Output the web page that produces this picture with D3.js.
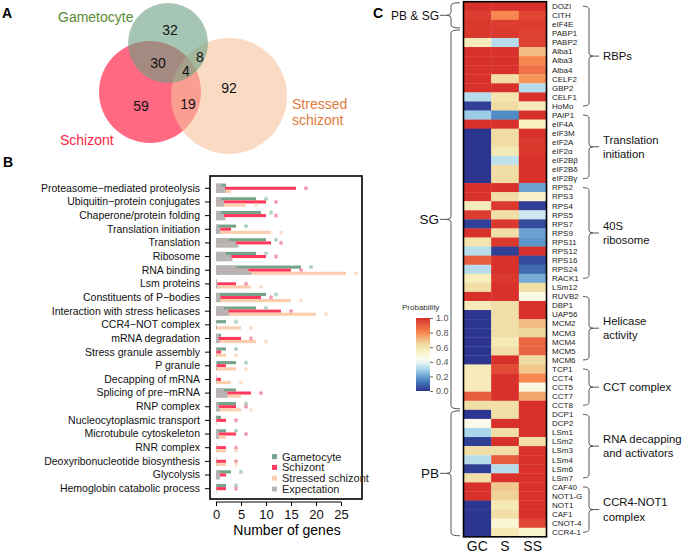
<!DOCTYPE html>
<html>
<head>
<meta charset="utf-8">
<script src="https://cdn.jsdelivr.net/npm/d3@7"></script>
<style>
  body { margin: 0; background: #fff; }
  svg { font-family: "Liberation Sans", Arial, sans-serif; }
</style>
</head>
<body>
<svg id="fig" width="685" height="555"></svg>
<script>
// ---------- data: panel A (Venn counts) ----------
var vennLabels = ["32", "30", "8", "4", "59", "19", "92"];

// ---------- data: panel B (bars) ----------
var categories = ["Proteasome\u2212mediated proteolysis", "Ubiquitin\u2212protein conjugates",
  "Chaperone/protein folding", "Translation initiation", "Translation", "Ribosome", "RNA binding",
  "Lsm proteins", "Constituents of P\u2212bodies", "Interaction with stress helicases",
  "CCR4\u2212NOT complex", "mRNA degradation", "Stress granule assembly", "P granule",
  "Decapping of mRNA", "Splicing of pre\u2212mRNA", "RNP complex", "Nucleocytoplasmic transport",
  "Microtubule cytoskeleton", "RNR complex", "Deoxyribonucleotide biosynthesis", "Glycolysis",
  "Hemoglobin catabolic process"];
var gameObs = [2, 8, 9, 4, 10, 8, 17, 0, 10, 8, 2, 1, 2, 4, 0, 4, 4, 1, 2, 0, 0, 3, 2];
var schObs  = [16, 10, 10, 3, 11, 10, 15, 4, 9, 13, 0, 5, 1, 2, 1, 7, 4, 2, 4, 2, 2, 2, 2];
var strObs  = [3, 6, 2, 11, 4, 2, 26, 7, 15, 20, 5, 8, 2, 4, 3, 5, 5, 0, 2, 2, 2, 0, 0];
var gameExp = [1.1, 1.0, 1.0, 0.5, 2.6, 2.0, 4.1, 0.2, 0.8, 1.6, 0.1, 0.6, 0.1, 0.2, 0.1, 1.5, 0.5, 0.1, 0.5, 0.1, 0.1, 0.6, 0.1];
var schExp  = [1.8, 1.6, 1.6, 0.9, 4.0, 3.1, 6.5, 0.3, 0.9, 2.5, 0.1, 0.5, 0.1, 0.2, 0.1, 2.3, 0.6, 0.1, 0.6, 0.1, 0.1, 0.8, 0.1];
var strExp  = [1.9, 1.6, 1.8, 0.9, 4.5, 3.3, 7.1, 0.3, 0.9, 2.6, 0.2, 0.8, 0.1, 0.2, 0.1, 2.3, 0.8, 0.1, 0.6, 0.1, 0.1, 0.8, 0.1];
var gameSig = [0, 1, 1, 1, 1, 1, 1, 0, 1, 1, 1, 0, 1, 1, 0, 0, 1, 0, 1, 0, 0, 1, 1];
var schSig  = [1, 1, 1, 0, 1, 1, 1, 1, 1, 1, 0, 1, 0, 0, 0, 1, 1, 1, 1, 1, 1, 0, 1];
var strSig  = [0, 1, 0, 1, 0, 0, 1, 1, 1, 1, 1, 1, 1, 1, 1, 0, 1, 0, 0, 1, 1, 0, 0];
var xTicks = [0, 5, 10, 15, 20, 25];
var legendNames = ["Gametocyte", "Schizont", "Stressed schizont", "Expectation"];

// ---------- data: panel C (heatmap) ----------
var stagesC = ["GC", "S", "SS"];
var genes = ["DOZI", "CITH", "eIF4E", "PABP1", "PABP2", "Alba1", "Alba3", "Alba4", "CELF2", "GBP2",
  "CELF1", "HoMo", "PAIP1", "eIF4A", "eIF3M", "eIF2A", "eIF2\u03b1", "eIF2B\u03b2", "eIF2B\u03b4", "eIF2B\u03b3",
  "RPS2", "RPS3", "RPS4", "RPS5", "RPS7", "RPS9", "RPS11", "RPS12", "RPS16", "RPS24", "RACK1",
  "LSm12", "RUVB2", "DBP1", "UAP56", "MCM2", "MCM3", "MCM4", "MCM5", "MCM6",
  "TCP1", "CCT4", "CCT5", "CCT7", "CCT8", "DCP1", "DCP2", "LSm1", "LSm2", "LSm3", "LSm4", "LSm6", "LSm7",
  "CAF40", "NOT1-G", "NOT1", "CAF1", "CNOT-4", "CCR4-1"];
var gcProb = [1, 0.97, 0.98, 0.98, 0.57, 1, 1, 1, 1, 1, 0.32, 0.02, 0.28, 1, 0, 0, 0, 0, 0, 0,
  1, 1, 0.57, 0.97, 0.02, 1, 0.6, 0.32, 0.9, 0.32, 0.56, 0.62, 1, 0.57, 0, 0, 0, 0, 0, 0,
  0.57, 0.57, 0.57, 0.9, 0.62, 0, 0.45, 0.3, 0.02, 0.62, 0.32, 0.02, 0.62, 1, 1, 0, 0, 0, 0];
var sProb = [1, 0.8, 0.97, 0.98, 0.32, 1, 1, 1, 0.63, 1, 0.6, 0.63, 0.16, 1, 0.63, 0.63, 0.58, 0.33, 0.62, 0.63,
  1, 0.62, 0.98, 0.62, 0.98, 0.62, 0.98, 0.02, 1, 1, 0.98, 1, 1, 0.62, 0.62, 0.62, 0.62, 0.58, 0.62, 1,
  0.94, 1, 1, 1, 0.62, 0.62, 1, 0.62, 1, 0.62, 0.9, 0.32, 1, 0.68, 0.66, 0.58, 0.62, 0.5, 0.58];
var ssProb = [1, 0.95, 0.97, 0.96, 0.96, 0.7, 0.8, 0.85, 0.78, 0.32, 1, 0.57, 1, 0.55, 1, 0.98, 0.98, 1, 1, 1,
  0.2, 0.53, 0.02, 0.35, 0.04, 0.2, 0.18, 1, 0.04, 0.1, 0.22, 0.62, 0.46, 1, 1, 0.7, 0.65, 0.88, 0.88, 0.63,
  0.68, 0.8, 0.47, 0.74, 1, 1, 1, 1, 0.62, 1, 1, 1, 1, 1, 1, 1, 1, 0.95, 0.52];
var legendTicks = [0, 0.2, 0.4, 0.6, 0.8, 1.0];
var rightGroups = [
  { text: ["RBPs"], from: 0, to: 11 },
  { text: ["Translation", "initiation"], from: 12, to: 19 },
  { text: ["40S", "ribosome"], from: 20, to: 30 },
  { text: ["Helicase", "activity"], from: 32, to: 39 },
  { text: ["CCT complex"], from: 40, to: 44 },
  { text: ["RNA decapping", "and activators"], from: 45, to: 52 },
  { text: ["CCR4-NOT1", "complex"], from: 53, to: 58 }
];
var leftGroups = [
  { text: "PB & SG", from: 0, to: 2, size: "12px" },
  { text: "SG", from: 3, to: 44, size: "13.5px" },
  { text: "PB", from: 45, to: 58, size: "13.5px" }
];

var svg = d3.select("#fig");

// panel letters
svg.append("text").attr("x", 2).attr("y", 18).text("A").style("font-weight", "bold").style("font-size", "14px");
svg.append("text").attr("x", 3).attr("y", 167).text("B").style("font-weight", "bold").style("font-size", "14px");
svg.append("text").attr("x", 373).attr("y", 18).text("C").style("font-weight", "bold").style("font-size", "14px");

// ================= A: Venn =================
var circles = [
  { cx: 150, cy: 92, r: 51, color: "rgb(255,5,47)" },     // Schizont
  { cx: 229, cy: 96, r: 58, color: "rgb(246,193,155)" },  // Stressed schizont
  { cx: 168, cy: 43, r: 40, color: "rgb(105,160,130)" }   // Gametocyte
];
var gVenn = svg.append("g");
gVenn.selectAll("circle").data(circles).enter().append("circle")
  .attr("cx", function(d) { return d.cx; })
  .attr("cy", function(d) { return d.cy; })
  .attr("r", function(d) { return d.r; })
  .style("fill", function(d) { return d.color; })
  .style("fill-opacity", 0.6);

var vennPos = [[170, 30], [158, 63], [200, 57], [186, 71], [141, 106], [188, 104], [229, 88]];
gVenn.selectAll("text.num").data(vennLabels).enter().append("text")
  .attr("class", "num")
  .attr("x", function(d, i) { return vennPos[i][0]; })
  .attr("y", function(d, i) { return vennPos[i][1]; })
  .attr("text-anchor", "middle").attr("dy", "0.35em")
  .style("font-size", "14px").style("fill", "#111")
  .text(function(d) { return d; });

gVenn.append("text").attr("x", 58).attr("y", 22).text("Gametocyte")
  .style("font-size", "14px").style("fill", "#5a8a34");
gVenn.append("text").attr("x", 60).attr("y", 145).text("Schizont")
  .style("font-size", "14px").style("fill", "#ff2445");
gVenn.append("text").attr("x", 292).attr("y", 109).text("Stressed")
  .style("font-size", "14px").style("fill", "#e07a3a");
gVenn.append("text").attr("x", 292).attr("y", 125).text("schizont")
  .style("font-size", "14px").style("fill", "#e07a3a");

// ================= B: bars =================
var gB = svg.append("g");
var x = d3.scaleLinear().domain([-1.2, 29.2]).range([210, 362]);
var y = d3.scaleBand().domain(categories).range([181.5, 495.5]);
var barH = 3.1;
var stages = [
  { obs: gameObs, exp: gameExp, sig: gameSig, color: "#73a489", star: "#9fc7b2", off: -4.7 },
  { obs: schObs, exp: schExp, sig: schSig, color: "#ff3a5c", star: "#f0859a", off: -1.6 },
  { obs: strObs, exp: strExp, sig: strSig, color: "#fcceae", star: "#f7d8c2", off: 1.5 }
];
var expColor = "#b5b5b5";

stages.forEach(function(s) {
  gB.append("g").selectAll("rect").data(categories).enter().append("rect")
    .attr("x", x(0))
    .attr("y", function(d) { return y(d) + y.bandwidth() / 2 + s.off; })
    .attr("width", function(d, i) { return x(s.obs[i]) - x(0); })
    .attr("height", barH)
    .style("fill", s.color);
});
stages.forEach(function(s) {
  gB.append("g").selectAll("rect").data(categories).enter().append("rect")
    .attr("x", x(0))
    .attr("y", function(d) { return y(d) + y.bandwidth() / 2 + s.off; })
    .attr("width", function(d, i) { return x(s.exp[i]) - x(0); })
    .attr("height", barH)
    .style("fill", expColor);
});
var starSym = d3.symbol().type(d3.symbolAsterisk || d3.symbolCross).size(14);
stages.forEach(function(s) {
  gB.append("g").selectAll("path")
    .data(categories.filter(function(d, i) { return s.sig[i]; }))
    .enter().append("path")
    .attr("transform", function(d) {
      var i = categories.indexOf(d);
      return "translate(" + x(s.obs[i] + 2) + "," + (y(d) + y.bandwidth() / 2 + s.off + barH / 2) + ")";
    })
    .attr("d", starSym)
    .style("fill", "none").style("stroke", s.star).style("stroke-width", 1);
});

// box
gB.append("rect").attr("x", 210).attr("y", 176).attr("width", 152).attr("height", 323)
  .style("fill", "none").style("stroke", "#000").style("stroke-width", 1.6);

// axes
var yAxis = gB.append("g").attr("transform", "translate(210,0)")
  .call(d3.axisLeft(y).tickSize(5).tickPadding(5));
yAxis.select(".domain").remove();
yAxis.selectAll("text").style("font-size", "10.5px").style("fill", "#111")
  .style("font-family", "'Liberation Sans', Arial, sans-serif");

var xAxis = gB.append("g").attr("transform", "translate(0,502)")
  .call(d3.axisBottom(x).tickValues(xTicks).tickSize(4).tickPadding(4));
xAxis.select(".domain").remove();
xAxis.append("line").attr("x1", x(0)).attr("x2", x(25)).style("stroke", "#000");
xAxis.selectAll("text").style("font-size", "13px").style("fill", "#111")
  .style("font-family", "'Liberation Sans', Arial, sans-serif");
gB.append("text").attr("x", 287).attr("y", 535).attr("text-anchor", "middle")
  .text("Number of genes").style("font-size", "14px");

// legend
var legColors = ["#73a489", "#ff3a5c", "#fcceae", expColor];
var leg = gB.append("g").selectAll("g").data(legendNames).enter().append("g")
  .attr("transform", function(d, i) { return "translate(272," + (456.7 + i * 10.8) + ")"; });
leg.append("rect").attr("x", 0).attr("y", -2.6).attr("width", 5).attr("height", 5)
  .style("fill", function(d, i) { return legColors[i]; });
leg.append("text").attr("x", 10).attr("dy", "0.35em").text(function(d) { return d; })
  .style("font-size", "11px").style("fill", "#222");

// ================= C: heatmap =================
var gC = svg.append("g");
var color = d3.scaleLinear()
  .domain([0, 0.15, 0.3, 0.42, 0.55, 0.65, 0.8, 1])
  .range(["#2c3590", "#4a86c2", "#a9d7ea", "#fdfdf6", "#f8f0c0", "#efd79c", "#f6884f", "#d8302a"])
  .interpolate(d3.interpolateRgb);
var hx = d3.scaleBand().domain(stagesC).range([463.5, 546.5]);
var hy = d3.scaleBand().domain(genes).range([1.7, 536.8]);
var probs = [gcProb, sProb, ssProb];

stagesC.forEach(function(st, j) {
  gC.append("g").selectAll("rect").data(genes).enter().append("rect")
    .attr("x", hx(st))
    .attr("y", function(d) { return hy(d); })
    .attr("width", hx.bandwidth() + 0.3)
    .attr("height", hy.bandwidth() + 0.3)
    .style("fill", function(d, i) { return color(probs[j][i]); });
});
gC.append("rect").attr("x", 463.5).attr("y", 1.7).attr("width", 83).attr("height", 535.1)
  .style("fill", "none").style("stroke", "#000").style("stroke-width", 1.6);

gC.append("g").selectAll("text").data(genes).enter().append("text")
  .attr("x", 552)
  .attr("y", function(d) { return hy(d) + hy.bandwidth() / 2; })
  .attr("dy", "0.35em")
  .text(function(d) { return d; })
  .style("font-size", "8px").style("fill", "#222");

gC.append("g").selectAll("text").data(stagesC).enter().append("text")
  .attr("x", function(d) { return hx(d) + hx.bandwidth() / 2; })
  .attr("y", 551)
  .attr("text-anchor", "middle")
  .text(function(d) { return d; })
  .style("font-size", "14px").style("fill", "#111");

// right brackets
function rowMid(i) { return hy(genes[i]) + hy.bandwidth() / 2; }
var bx = 589;
rightGroups.forEach(function(g) {
  var y1 = rowMid(g.from), y2 = rowMid(g.to), ym = (y1 + y2) / 2;
  var p = "M" + (bx - 6) + "," + y1 + "Q" + bx + "," + y1 + " " + bx + "," + (y1 + 3) +
    "L" + bx + "," + (ym - 3) + "Q" + bx + "," + ym + " " + (bx + 4) + "," + ym +
    "Q" + bx + "," + ym + " " + bx + "," + (ym + 3) +
    "L" + bx + "," + (y2 - 3) + "Q" + bx + "," + y2 + " " + (bx - 6) + "," + y2;
  gC.append("path").attr("d", p).style("fill", "none").style("stroke", "#444").style("stroke-width", 0.9);
  gC.append("line").attr("x1", bx + 4).attr("x2", bx + 10).attr("y1", ym).attr("y2", ym)
    .style("stroke", "#444").style("stroke-width", 0.9);
  var n = g.text.length;
  g.text.forEach(function(t, k) {
    gC.append("text").attr("x", 603).attr("y", ym + (k - (n - 1) / 2) * 14.5)
      .attr("dy", "0.35em").text(t).style("font-size", "11.3px").style("fill", "#111");
  });
});

// left brackets
var lx = 451;
leftGroups.forEach(function(g) {
  var y1 = hy(genes[g.from]) + 1, y2 = hy(genes[g.to]) + hy.bandwidth() - 1, ym = (y1 + y2) / 2;
  var p = "M" + (lx + 9) + "," + y1 + "Q" + lx + "," + y1 + " " + lx + "," + (y1 + 3) +
    "L" + lx + "," + (ym - 3) + "Q" + lx + "," + ym + " " + (lx - 4) + "," + ym +
    "Q" + lx + "," + ym + " " + lx + "," + (ym + 3) +
    "L" + lx + "," + (y2 - 3) + "Q" + lx + "," + y2 + " " + (lx + 9) + "," + y2;
  gC.append("path").attr("d", p).style("fill", "none").style("stroke", "#444").style("stroke-width", 0.9);
  gC.append("line").attr("x1", lx - 4).attr("x2", lx - 11).attr("y1", ym).attr("y2", ym)
    .style("stroke", "#444").style("stroke-width", 0.9);
  gC.append("text").attr("x", lx - 12).attr("y", ym).attr("dy", "0.35em")
    .attr("text-anchor", "end").text(g.text).style("font-size", g.size).style("fill", "#111");
});

// colour legend
var defs = svg.append("defs");
var grad = defs.append("linearGradient").attr("id", "probGrad")
  .attr("x1", 0).attr("x2", 0).attr("y1", 1).attr("y2", 0);
d3.range(0, 1.0001, 0.05).forEach(function(v) {
  grad.append("stop").attr("offset", v).attr("stop-color", color(v));
});
var ly = d3.scaleLinear().domain([0, 1]).range([391, 318]);
gC.append("rect").attr("x", 416).attr("y", ly(1)).attr("width", 14).attr("height", ly(0) - ly(1))
  .style("fill", "url(#probGrad)");
var lAxis = gC.append("g").attr("transform", "translate(430,0)")
  .call(d3.axisRight(ly).tickValues(legendTicks).tickFormat(d3.format(".1f")).tickSize(3).tickPadding(3));
lAxis.select(".domain").remove();
lAxis.selectAll("line").style("stroke", "#666");
lAxis.selectAll("text").style("font-size", "9px").style("fill", "#555")
  .style("font-family", "'Liberation Sans', Arial, sans-serif");
gC.append("text").attr("x", 402).attr("y", 310).text("Probability")
  .style("font-size", "8px").style("fill", "#333");
</script>
</body>
</html>
